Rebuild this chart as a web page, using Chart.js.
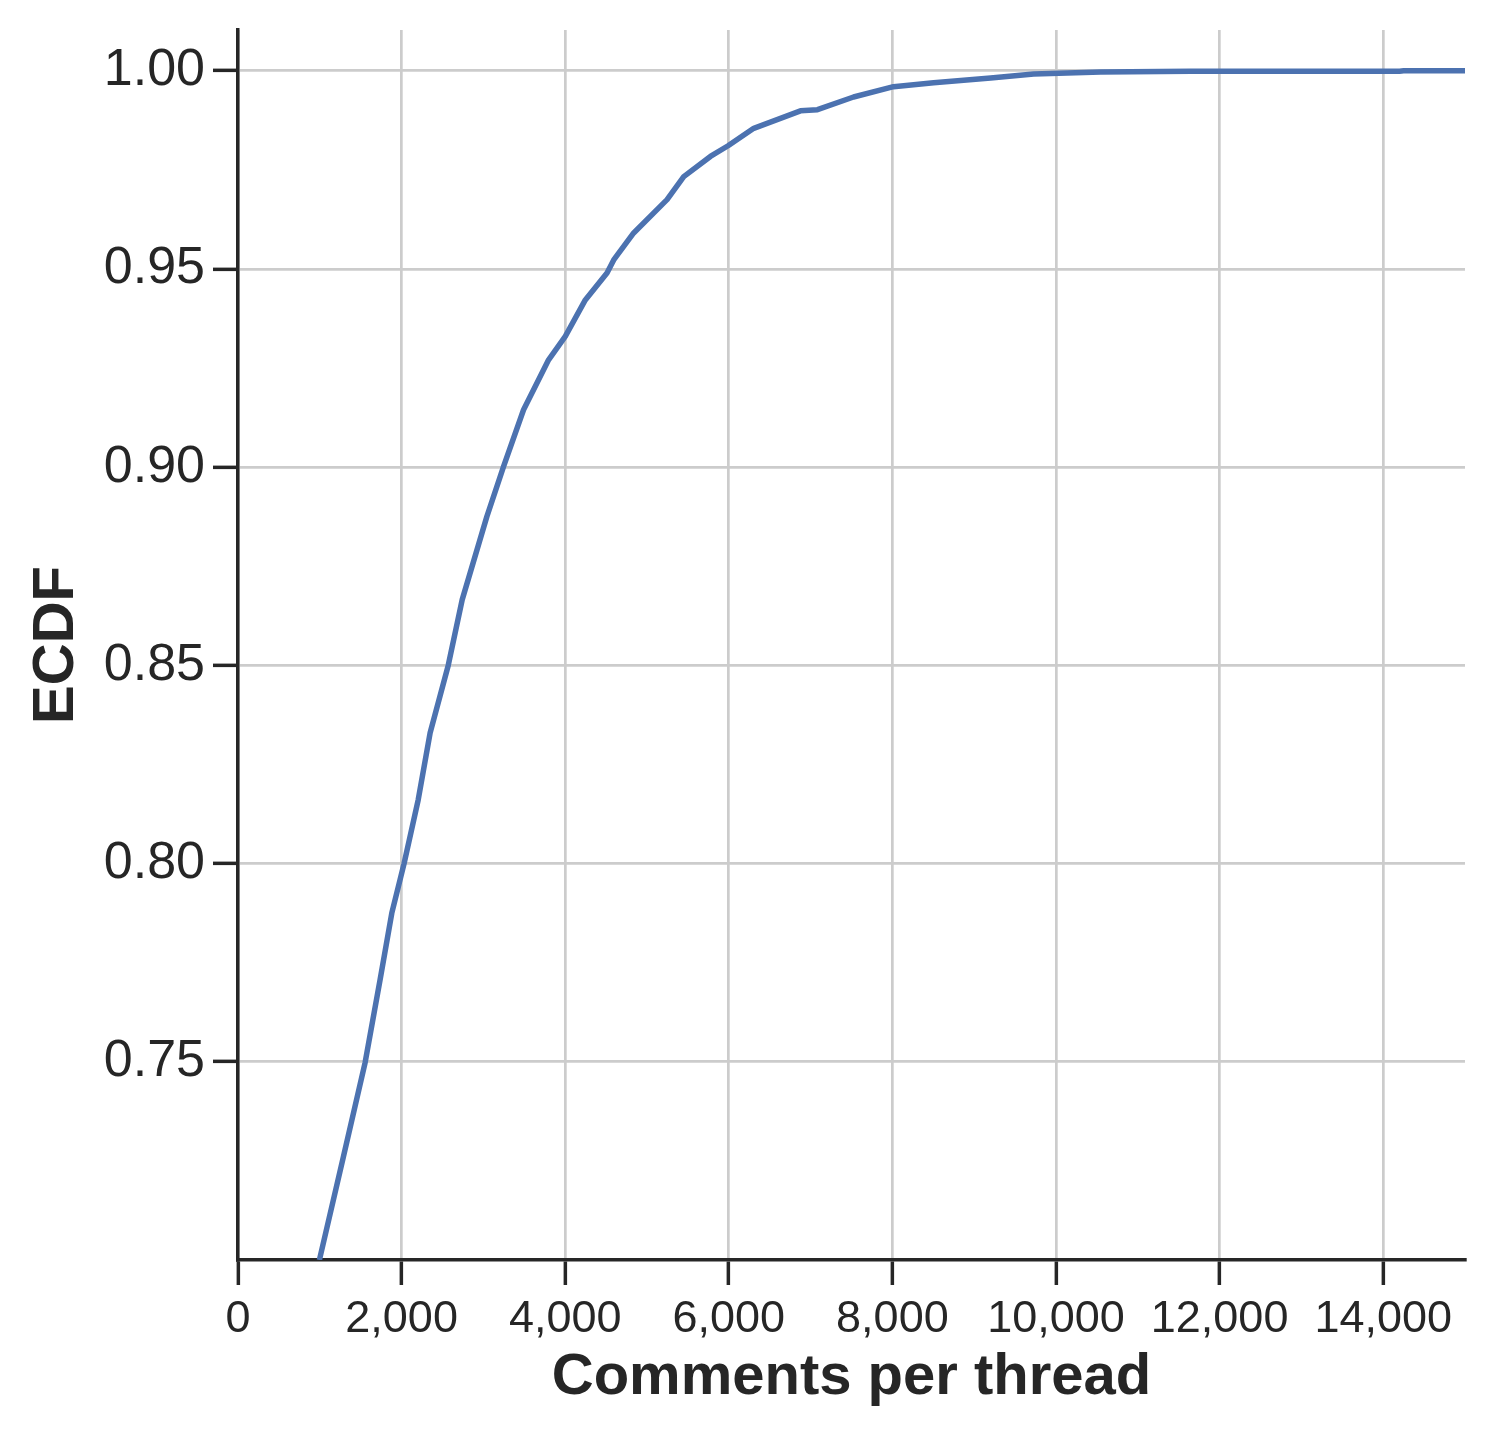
<!DOCTYPE html>
<html>
<head>
<meta charset="utf-8">
<script src="https://cdn.jsdelivr.net/npm/chart.js@4/dist/chart.umd.min.js"></script>
<style>
  body { margin: 0; background: #fff; }
  #wrap { width: 1494px; height: 1445px; }
</style>
</head>
<body>
<div id="wrap"><canvas id="chart" width="1494" height="1445"></canvas></div>
<script>
// ECDF of comments per thread
const commentsPerThread = [995, 1289, 1554, 1737, 1880, 2030, 2203, 2349, 2570, 2741, 3043, 3247, 3491,
  3797, 4001, 4246, 4511, 4593, 4837, 5245, 5449, 5775, 5991, 6305, 6876, 7084, 7525, 8014, 8504,
  9201, 9727, 10547, 11648, 14200, 14250, 15000]
const ecdf = [0.700, 0.7261, 0.7498, 0.7707, 0.7875, 0.800, 0.8161, 0.8330, 0.850, 0.8666, 0.8876, 0.9002, 0.9145,
  0.9271, 0.9330, 0.9422, 0.9490, 0.9523, 0.9591, 0.9675, 0.9733, 0.9784, 0.9811, 0.9855, 0.9899, 0.9902, 0.9934, 0.9960, 0.9970,
  0.9982, 0.9992, 0.9997, 0.9999, 0.9999, 1.000, 1.000]

const xTicks = [0, 2000, 4000, 6000, 8000, 10000, 12000, 14000]
const yTicks = [0.75, 0.80, 0.85, 0.90, 0.95, 1.00]

const ink = '#262626'
const fontFamily = '"Liberation Sans", Arial, sans-serif'

const points = commentsPerThread.map((x, i) => ({ x: x, y: ecdf[i] }))

const ctx = document.querySelector('#chart').getContext('2d')

new Chart(ctx, {
  type: 'line',
  data: {
    datasets: [
      {
        label: 'ECDF',
        data: points,
        borderColor: '#4c72b0',
        borderWidth: 5.5,
        pointRadius: 0,
        tension: 0,
        borderJoinStyle: 'round',
        fill: false
      }
    ]
  },
  options: {
    responsive: false,
    animation: false,
    devicePixelRatio: 1,
    layout: { padding: { top: 30, right: 29, left: 0, bottom: 0 } },
    plugins: {
      legend: { display: false },
      tooltip: { enabled: false }
    },
    scales: {
      x: {
        type: 'linear',
        min: 0,
        max: 15000,
        afterBuildTicks: (scale) => { scale.ticks = xTicks.map(v => ({ value: v })) },
        afterFit: (scale) => {
          scale.height = 185
          scale.paddingLeft = 0
          scale.paddingRight = 0
        },
        border: { color: ink, width: 3.5 },
        grid: { color: '#cccccc', lineWidth: 2.7, tickColor: ink, tickWidth: 3.5, tickLength: 25 },
        ticks: {
          color: ink,
          padding: 8,
          maxRotation: 0,
          font: { family: fontFamily, size: 45 },
          callback: (v) => v.toLocaleString('en-US')
        },
        title: {
          display: true,
          text: 'Comments per thread',
          color: ink,
          font: { family: fontFamily, size: 58, weight: 'bold' },
          padding: { top: 0, bottom: 32 }
        }
      },
      y: {
        type: 'linear',
        min: 0.70,
        max: 1.0103,
        afterBuildTicks: (scale) => { scale.ticks = yTicks.map(v => ({ value: v })) },
        afterFit: (scale) => {
          scale.width = 238
          scale.paddingTop = 0
          scale.paddingBottom = 0
        },
        border: { color: ink, width: 3.5 },
        grid: { color: '#cccccc', lineWidth: 2.7, tickColor: ink, tickWidth: 3.5, tickLength: 25 },
        ticks: {
          color: ink,
          padding: 8,
          font: { family: fontFamily, size: 52 },
          callback: (v) => v.toFixed(2)
        },
        title: {
          display: true,
          text: 'ECDF',
          color: ink,
          font: { family: fontFamily, size: 58, weight: 'bold' },
          padding: { top: 22, bottom: 0 }
        }
      }
    }
  }
})
</script>
</body>
</html>
